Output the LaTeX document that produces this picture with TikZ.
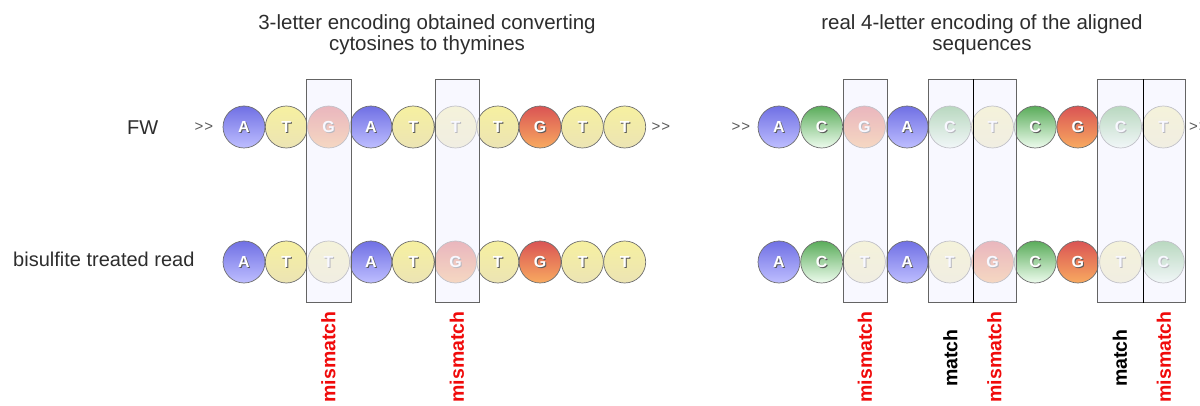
\documentclass[tikz,border=0pt]{standalone}
\usepackage{fontspec}
\setmainfont{Liberation Sans}
\definecolor{aTop}{RGB}{112,112,228}
\definecolor{aBot}{RGB}{190,190,255}
\definecolor{tTop}{RGB}{246,240,160}
\definecolor{tBot}{RGB}{236,228,180}
\definecolor{gTop}{RGB}{218,84,84}
\definecolor{gBot}{RGB}{248,170,96}
\definecolor{cTop}{RGB}{90,172,90}
\definecolor{cBot}{RGB}{238,252,238}
\definecolor{rim}{RGB}{110,110,110}
\definecolor{shadowc}{RGB}{90,90,90}
\definecolor{boxfillc}{RGB}{244,244,255}
\definecolor{boxline}{RGB}{100,100,100}
\definecolor{txt}{RGB}{45,45,45}
\definecolor{redlab}{RGB}{240,10,10}
\newcommand\nucl[1]{\makebox[0pt][l]{\kern1pt\raisebox{-1pt}{\color{shadowc}#1}}{\color{white}#1}}
\newcommand\chevs{>\kern1pt{}>}
\begin{document}
\begin{tikzpicture}[x=1pt,y=-1pt,
  ball/.style={circle, draw=rim, line width=0.7pt, minimum size=42pt, inner sep=0pt,
    font=\fontsize{16}{16}\selectfont\bfseries},
  nA/.style={ball, top color=aTop, bottom color=aBot},
  nT/.style={ball, top color=tTop, bottom color=tBot},
  nG/.style={ball, top color=gTop, bottom color=gBot},
  nC/.style={ball, top color=cTop, bottom color=cBot},
  hbox/.style={rectangle, draw=boxline, line width=0.8pt, fill=boxfillc, fill opacity=0.62,
    minimum height=223pt, inner sep=0pt},
  divider/.style={draw=black, line width=1.3pt},
  title/.style={text=txt, font=\fontsize{20.5}{20.5}\selectfont, anchor=base, inner sep=0pt},
  rowlab/.style={text=txt, font=\fontsize{20}{20}\selectfont, anchor=base west, inner sep=0pt},
  chev/.style={text=shadowc, font=\fontsize{15}{15}\selectfont, inner sep=0pt},
  vlab/.style={rotate=90, font=\fontsize{19.5}{19.5}\selectfont\bfseries, inner sep=0pt}
]
\useasboundingbox (0,0) rectangle (1200,406);

% titles
\node[title] (t1a) at (427,30) {3-letter encoding obtained converting};
\node[title] (t1b) at (427,51) {cytosines to thymines};
\node[title] (t2a) at (982,30) {real 4-letter encoding of the aligned};
\node[title] (t2b) at (982,51) {sequences};

% row labels
\node[rowlab] (fw) at (127,135) {FW};
\node[rowlab] (bis) at (13,267) {bisulfite treated read};

% chevrons
\node[chev] (c1) at (204,127) {\chevs};
\node[chev] (c2) at (661,127) {\chevs};
\node[chev] (c3) at (741,127) {\chevs};
\node[chev, anchor=west] (c4) at (1189,127) {\chevs};

% left panel circles
\foreach \l [count=\i from 0] in {A,T,G,A,T,T,T,G,T,T}
  \node[n\l] (tl\i) at ({244+42.3*\i},127) {\nucl{\l}};
\foreach \l [count=\i from 0] in {A,T,T,A,T,G,T,G,T,T}
  \node[n\l] (bl\i) at ({244+42.3*\i},262) {\nucl{\l}};
% right panel circles
\foreach \l [count=\i from 0] in {A,C,G,A,C,T,C,G,C,T}
  \node[n\l] (tr\i) at ({779+42.7*\i},127) {\nucl{\l}};
\foreach \l [count=\i from 0] in {A,C,T,A,T,G,C,G,T,C}
  \node[n\l] (br\i) at ({779+42.7*\i},262) {\nucl{\l}};

% highlight boxes
\node[hbox, minimum width=45pt] (b1) at (328.5,190.5) {};
\node[hbox, minimum width=44pt] (b2) at (457,190.5) {};
\node[hbox, minimum width=44pt] (b3) at (865,191) {};
\node[hbox, minimum width=45pt] (b4) at (950.5,191) {};
\node[hbox, minimum width=43pt] (b5) at (994.5,191) {};
\node[hbox, minimum width=46pt] (b6) at (1120,191) {};
\node[hbox, minimum width=42pt] (b7) at (1164,191) {};
\draw[divider] (b4.north east) -- (b4.south east);
\draw[divider] (b6.north east) -- (b6.south east);

% vertical labels
\node[vlab, text=redlab] (m1) at (328.5,357) {mismatch};
\node[vlab, text=redlab] (m2) at (457,357) {mismatch};
\node[vlab, text=redlab] (m3) at (865,357) {mismatch};
\node[vlab, text=black] (k1) at (950.5,358) {match};
\node[vlab, text=redlab] (m4) at (994.5,357) {mismatch};
\node[vlab, text=black] (k2) at (1120,358) {match};
\node[vlab, text=redlab] (m5) at (1164,357) {mismatch};
\end{tikzpicture}
\end{document}
